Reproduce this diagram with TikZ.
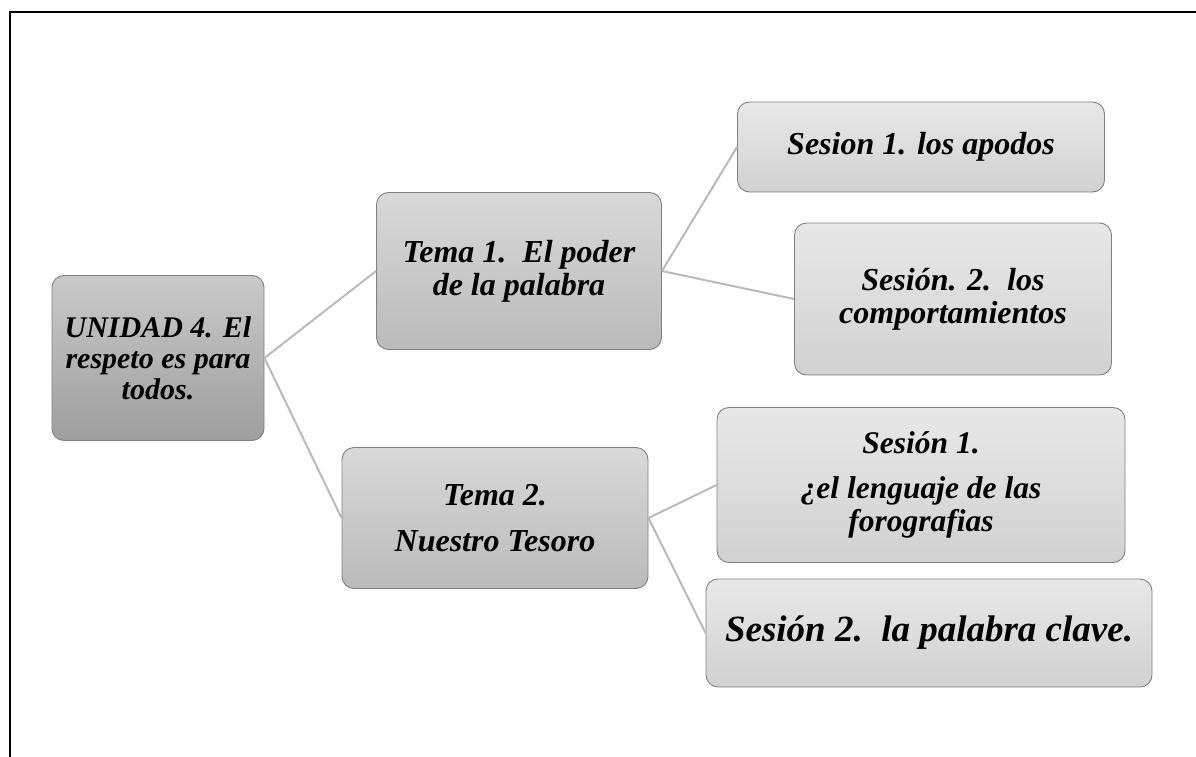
\documentclass[tikz,border=0pt]{standalone}
\usepackage{fontspec}
\setmainfont{Liberation Serif}

\begin{document}
\begin{tikzpicture}[x=1pt,y=-1pt,
        caja/.style={draw=black!50, line width=0.9pt, rounded corners=12pt, align=center, inner sep=0pt},
        raiz/.style={caja, top color=black!21, bottom color=black!38},
        tema/.style={caja, top color=black!15, bottom color=black!27},
        sesion/.style={caja, top color=black!9, bottom color=black!18},
        enlace/.style={draw=black!27, line width=2pt}]
        \useasboundingbox (0,0) rectangle (1196,757);

        % marco
        \draw[line width=2.5pt] (1196,12) -- (10,12) -- (10,757);

        % unidad
        \node[raiz, minimum width=212pt, minimum height=165pt, font=\fontsize{30}{31}\selectfont\bfseries\itshape] (unidad) at (158,358) {UNIDAD 4. El\\respeto es para\\todos.};

        % temas
        \node[tema, minimum width=285pt, minimum height=157pt, font=\fontsize{32}{33}\selectfont\bfseries\itshape] (temaA) at (519,271) {Tema 1.\ \ El poder\\de la palabra};
        \node[tema, minimum width=306pt, minimum height=141pt, font=\fontsize{32}{34}\selectfont\bfseries\itshape] (temaB) at (495,518) {Tema 2.\\[12pt]Nuestro Tesoro};

        % sesiones del tema 1
        \node[sesion, minimum width=367pt, minimum height=90pt, font=\fontsize{32}{34}\selectfont\bfseries\itshape] (sesAA) at (921,147) {Sesion 1. los apodos};
        \node[sesion, minimum width=317pt, minimum height=152pt, font=\fontsize{32}{33}\selectfont\bfseries\itshape] (sesAB) at (953,299) {Sesión. 2.\ \ los\\comportamientos};

        % sesiones del tema 2
        \node[sesion, minimum width=408pt, minimum height=155pt, font=\fontsize{31.5}{33}\selectfont\bfseries\itshape] (sesBA) at (921,485) {Sesión 1.\\[12pt]¿el lenguaje de las\\forografias};
        \node[sesion, minimum width=446pt, minimum height=108pt, font=\fontsize{37}{40}\selectfont\bfseries\itshape] (sesBB) at (929,633) {Sesión 2.\ \ la palabra clave.};

        % enlaces
        \draw[enlace] (unidad.east) -- (temaA.west);
        \draw[enlace] (unidad.east) -- (temaB.west);
        \draw[enlace] (temaA.east) -- (sesAA.west);
        \draw[enlace] (temaA.east) -- (sesAB.west);
        \draw[enlace] (temaB.east) -- (sesBA.west);
        \draw[enlace] (temaB.east) -- (sesBB.west);
    \end{tikzpicture}
\end{document}
